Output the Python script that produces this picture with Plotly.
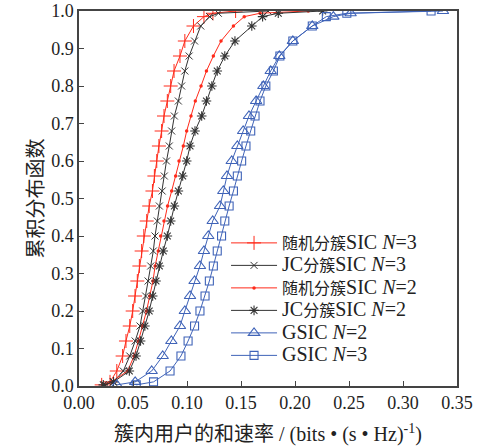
import plotly.graph_objects as go

# CDF levels (shared sampling of the empirical CDF)
p_levels = [0.003, 0.011, 0.040, 0.080, 0.120, 0.160, 0.200, 0.240, 0.280, 0.320,
            0.360, 0.400, 0.440, 0.480, 0.520, 0.560, 0.600, 0.640, 0.680, 0.720,
            0.760, 0.800, 0.840, 0.880, 0.920, 0.960, 0.985, 0.994, 1.000]

rand_n3 = [0.021, 0.0287, 0.035, 0.0404, 0.0435, 0.047, 0.0497, 0.0519, 0.054, 0.0559,
           0.058, 0.060, 0.0627, 0.0650, 0.068, 0.0698, 0.072, 0.074, 0.0765, 0.0787,
           0.0818, 0.0849, 0.088, 0.0935, 0.098, 0.106, 0.1157, 0.124, 0.145]

jc_n3 = [0.024, 0.0318, 0.041, 0.047, 0.052, 0.0565, 0.059, 0.0617, 0.064, 0.0664,
         0.0688, 0.0704, 0.0725, 0.0744, 0.077, 0.079, 0.081, 0.0836, 0.0858, 0.0883,
         0.092, 0.095, 0.098, 0.102, 0.107, 0.1127, 0.121, 0.129, 0.175]

rand_n2 = [0.022, 0.030, 0.045, 0.051, 0.055, 0.059, 0.0625, 0.0655, 0.0685, 0.0705,
           0.0734, 0.0756, 0.0787, 0.082, 0.0858, 0.0895, 0.0926, 0.0966, 0.0997, 0.1037,
           0.1077, 0.113, 0.118, 0.1244, 0.1315, 0.143, 0.153, 0.1676, 0.2123]

jc_n2 = [0.0225, 0.032, 0.0466, 0.0528, 0.057, 0.061, 0.065, 0.0682, 0.0713, 0.0744,
         0.078, 0.0818, 0.0849, 0.0883, 0.092, 0.096, 0.0997, 0.1028, 0.1074, 0.1136,
         0.118, 0.123, 0.128, 0.135, 0.1444, 0.160, 0.170, 0.1845, 0.2256]

gsic_n2 = [0.035, 0.052, 0.0673, 0.0775, 0.0855, 0.0935, 0.098, 0.1028, 0.107, 0.112,
           0.1157, 0.1197, 0.1238, 0.1306, 0.1336, 0.137, 0.1414, 0.1466, 0.152, 0.1574,
           0.164, 0.1707, 0.1775, 0.1855, 0.198, 0.216, 0.2355, 0.2515, 0.337]

gsic_n3 = [0.053, 0.069, 0.0843, 0.0944, 0.101, 0.107, 0.112, 0.1167, 0.1207, 0.1244,
           0.128, 0.132, 0.135, 0.139, 0.143, 0.1466, 0.1506, 0.1546, 0.159, 0.163,
           0.1676, 0.173, 0.180, 0.186, 0.198, 0.216, 0.229, 0.248, 0.326]

x_ticks = [0.00, 0.05, 0.10, 0.15, 0.20, 0.25, 0.30, 0.35]
y_ticks = [0.0, 0.1, 0.2, 0.3, 0.4, 0.5, 0.6, 0.7, 0.8, 0.9, 1.0]

RED = "#ff2a1a"
BLK = "#333333"
BLUE = "#3f63b8"

LAT = '<span style="font-size:20px">'
CJK = '<span style="font-size:16px">'
E = "</span>"

series = [
    (CJK + "随机分簇" + E + LAT + "SIC <i>N</i>=3" + E, rand_n3, RED, "cross-thin-open", 10, 1.0),
    (LAT + "JC" + E + CJK + "分簇" + E + LAT + "SIC <i>N</i>=3" + E, jc_n3, BLK, "x-thin-open", 7, 1.0),
    (CJK + "随机分簇" + E + LAT + "SIC <i>N</i>=2" + E, rand_n2, RED, "circle", 3.5, 0),
    (LAT + "JC" + E + CJK + "分簇" + E + LAT + "SIC <i>N</i>=2" + E, jc_n2, BLK, "asterisk-open", 8, 1.1),
    (LAT + "GSIC <i>N</i>=2" + E, gsic_n2, BLUE, "triangle-up-open", 10, 1.1),
    (LAT + "GSIC <i>N</i>=3" + E, gsic_n3, BLUE, "square-open", 8, 1.1),
]

FONT = "'Liberation Serif', 'Noto Sans CJK SC', serif"

fig = go.Figure()
for name, xs, col, sym, sz, mlw in series:
    fig.add_trace(go.Scatter(
        x=xs, y=p_levels, mode="lines+markers", name=name,
        line=dict(color=col, width=1),
        marker=dict(symbol=sym, size=sz, color=col, line=dict(color=col, width=mlw)),
    ))

axis_common = dict(
    showline=True, linecolor="#444444", linewidth=1.5, mirror=True,
    ticks="inside", ticklen=5, tickcolor="#444444", tickwidth=1,
    showgrid=False, zeroline=False, automargin=False,
    ticklabeloverflow="allow",
    tickfont=dict(family=FONT, size=18, color="#222222"),
)

fig.update_layout(
    width=483, height=447,
    margin=dict(l=79, r=26, t=11, b=61),
    paper_bgcolor="white", plot_bgcolor="white",
    font=dict(family=FONT, color="#222222"),
    xaxis=dict(range=[0, 0.35], tickvals=x_ticks, tickformat=".2f",
               title=dict(text="簇内用户的和速率 / (bits • (s • Hz)<sup>-1</sup>)",
                          font=dict(family=FONT, size=20)),
               **axis_common),
    yaxis=dict(range=[0, 1.0], tickvals=y_ticks, tickformat=".1f",
               title=dict(text="累积分布函数", font=dict(family=FONT, size=20), standoff=2),
               **axis_common),
    legend=dict(x=0.389, y=0.425, xanchor="left", yanchor="top",
                bgcolor="rgba(0,0,0,0)", borderwidth=0,
                font=dict(family=FONT, size=15, color="#222222"),
                itemwidth=46, tracegroupgap=0),
    showlegend=True,
)

fig.write_html("out.html", config={"displayModeBar": False},
               post_script="document.body.style.margin='0';")
